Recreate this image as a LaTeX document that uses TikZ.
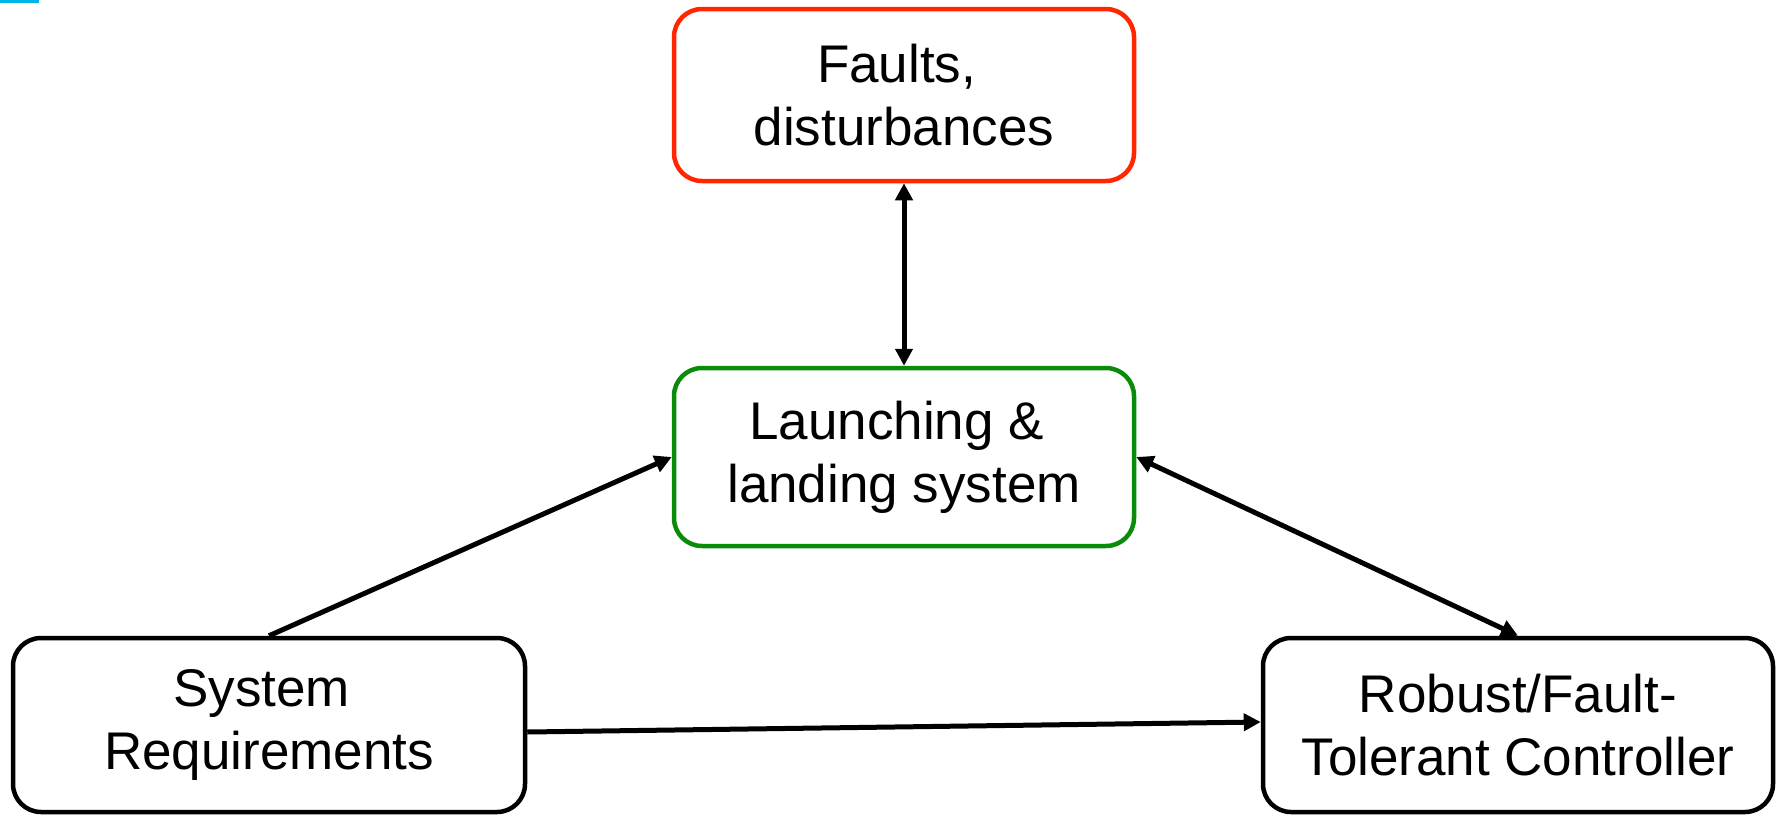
\documentclass[tikz,border=0pt]{standalone}
\usepackage{fontspec}
\setmainfont{Liberation Sans}
\usetikzlibrary{arrows.meta}
\definecolor{faultred}{RGB}{255,38,0}
\definecolor{sysgreen}{RGB}{10,140,10}
\definecolor{barblue}{RGB}{0,180,228}
\begin{document}
\begin{tikzpicture}[x=1pt,y=-1pt,
  block/.style={draw=black, line width=4.5pt, rounded corners=28pt, fill=white,
    inner sep=0pt, align=center, font=\fontsize{53}{63}\selectfont},
  arr/.style={line width=5pt, draw=black,
    arrows={-Triangle[length=17pt,width=17pt]}},
  dblarr/.style={line width=5pt, draw=black,
    arrows={Triangle[length=17pt,width=17pt]-Triangle[length=17pt,width=17pt]}}]
  \useasboundingbox (0,0) rectangle (1781,815);

  % small accent bar in the corner
  \fill[barblue] (0,0) rectangle (39,3);

  % blocks
  \node[block, draw=faultred, minimum width=460pt, minimum height=172pt]
    (faults) at (904,95) {Faults,\hspace*{0.28em}\\disturbances};
  \node[block, draw=sysgreen, minimum width=460pt, minimum height=178pt]
    (launch) at (904,457) {Launching \&\hspace*{0.28em}\\landing system};
  \node[block, minimum width=512pt, minimum height=174pt]
    (sysreq) at (269,725) {System\hspace*{0.28em}\\Requirements};
  \node[block, minimum width=510pt, minimum height=174pt]
    (robust) at (1518,725) {Robust/Fault-\\Tolerant Controller};

  % connectors
  \draw[dblarr] (faults.south) -- (launch.north);
  \draw[arr] (sysreq.north) -- (launch.west);
  \draw[dblarr] (launch.east) -- (robust.north);
  \draw[arr] ([yshift=-7pt]sysreq.east) -- ([yshift=3pt]robust.west);
\end{tikzpicture}
\end{document}
